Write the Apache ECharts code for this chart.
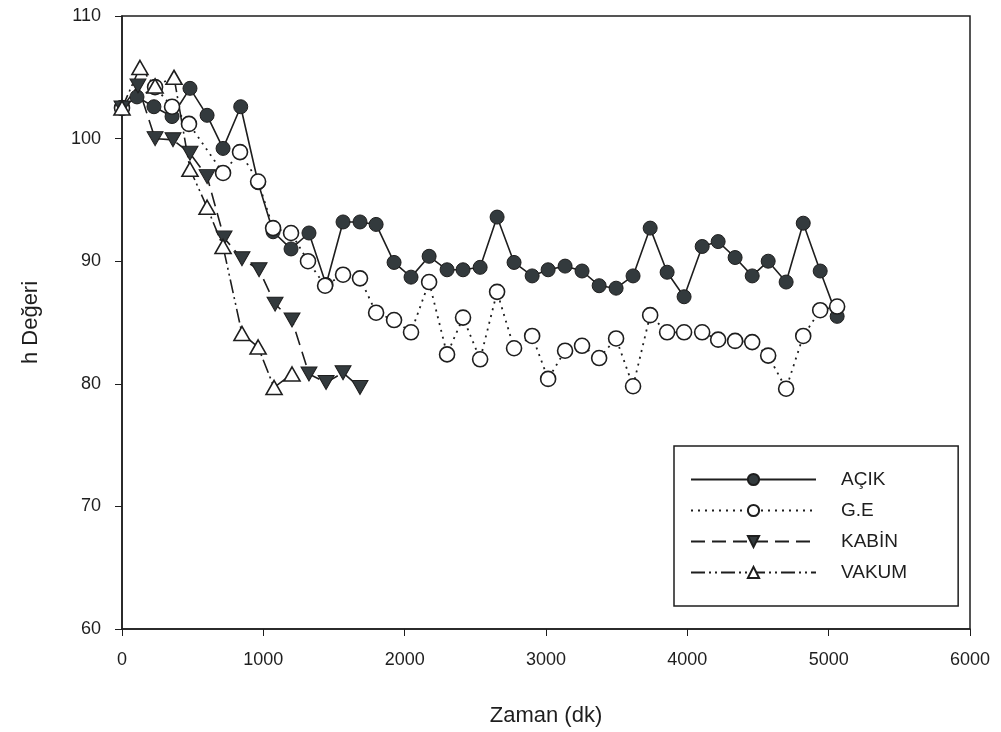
<!DOCTYPE html>
<html>
<head>
<meta charset="utf-8">
<script src="https://cdn.jsdelivr.net/npm/echarts@6/dist/echarts.min.js"></script>
<style>
  html, body { margin: 0; padding: 0; background: #fff; }
  #chart { width: 1001px; height: 732px; }
</style>
</head>
<body>
<div id="chart"></div>
<script>
// values: time (dk) and h value per series
var acikTime = [0, 106, 226, 354, 481, 602, 715, 840, 963, 1069, 1196, 1323, 1444, 1564, 1684, 1798, 1925, 2045, 2173, 2300, 2413, 2534, 2654, 2774, 2902, 3015, 3135, 3255, 3376, 3496, 3616, 3737, 3857, 3977, 4105, 4218, 4338, 4459, 4572, 4699, 4820, 4940, 5060];
var acikVal = [102.5, 103.4, 102.6, 101.8, 104.1, 101.9, 99.2, 102.6, 96.4, 92.4, 91.0, 92.3, 88.1, 93.2, 93.2, 93.0, 89.9, 88.7, 90.4, 89.3, 89.3, 89.5, 93.6, 89.9, 88.8, 89.3, 89.6, 89.2, 88.0, 87.8, 88.8, 92.7, 89.1, 87.1, 91.2, 91.6, 90.3, 88.8, 90.0, 88.3, 93.1, 89.2, 85.5];

var geTime = [0, 234, 354, 474, 715, 835, 963, 1069, 1196, 1316, 1437, 1564, 1684, 1798, 1925, 2045, 2173, 2300, 2413, 2534, 2654, 2774, 2902, 3015, 3135, 3255, 3376, 3496, 3616, 3737, 3857, 3977, 4105, 4218, 4338, 4459, 4572, 4699, 4820, 4940, 5060];
var geVal = [102.5, 104.2, 102.6, 101.2, 97.2, 98.9, 96.5, 92.7, 92.3, 90.0, 88.0, 88.9, 88.6, 85.8, 85.2, 84.2, 88.3, 82.4, 85.4, 82.0, 87.5, 82.9, 83.9, 80.4, 82.7, 83.1, 82.1, 83.7, 79.8, 85.6, 84.2, 84.2, 84.2, 83.6, 83.5, 83.4, 82.3, 79.6, 83.9, 86.0, 86.3];

var kabinTime = [0, 113, 234, 361, 481, 602, 722, 849, 970, 1083, 1203, 1323, 1444, 1564, 1684];
var kabinVal = [102.5, 104.3, 100.0, 99.9, 98.8, 96.9, 91.9, 90.2, 89.3, 86.5, 85.2, 80.8, 80.1, 80.9, 79.7];

var vakumTime = [0, 127, 234, 368, 481, 602, 715, 849, 963, 1076, 1203];
var vakumVal = [102.5, 105.8, 104.3, 105.0, 97.5, 94.4, 91.2, 84.1, 83.0, 79.7, 80.8];

var xTicks = [0, 1000, 2000, 3000, 4000, 5000, 6000];
var yTicks = [60, 70, 80, 90, 100, 110];

function pairs(t, v) {
  return t.map(function (x, i) { return [x, v[i]]; });
}

var ink = '#1e1e1e';
var font = 'Liberation Sans';

var chart = echarts.init(document.getElementById('chart'));

var option = {
  animation: false,
  backgroundColor: '#fff',
  grid: {
    left: 122, right: 31, top: 16, bottom: 102,
    show: true, borderColor: ink, borderWidth: 1.5, backgroundColor: 'transparent'
  },
  legend: {
    left: 674, top: 446,
    orient: 'vertical',
    itemWidth: 125, itemHeight: 14, itemGap: 12,
    padding: [24, 51, 24, 16],
    borderColor: ink, borderWidth: 1.5,
    textStyle: { fontFamily: font, fontSize: 19, color: ink, padding: [0, 0, 0, 20] },
    data: ['AÇIK', 'G.E', 'KABİN', 'VAKUM']
  },
  xAxis: {
    type: 'value',
    min: xTicks[0], max: xTicks[xTicks.length - 1], interval: 1000,
    name: 'Zaman (dk)', nameLocation: 'middle', nameGap: 76,
    nameTextStyle: { fontFamily: font, fontSize: 22, color: ink },
    axisLine: { show: true, lineStyle: { color: ink, width: 1.5 } },
    axisTick: { show: true, inside: false, length: 7, lineStyle: { color: ink } },
    axisLabel: {
      fontFamily: font, fontSize: 18, color: ink, margin: 22,
      formatter: function (v) { return String(v); }
    },
    splitLine: { show: false }
  },
  yAxis: {
    type: 'value',
    min: yTicks[0], max: yTicks[yTicks.length - 1], interval: 10,
    name: 'h Değeri', nameLocation: 'middle', nameGap: 80, nameRotate: 90,
    nameTextStyle: { fontFamily: font, fontSize: 22, color: ink },
    axisLine: { show: true, lineStyle: { color: ink, width: 1.5 } },
    axisTick: { show: true, inside: false, length: 7, lineStyle: { color: ink } },
    axisLabel: { fontFamily: font, fontSize: 18, color: ink, margin: 21 },
    splitLine: { show: false }
  },
  series: [{
    name: 'AÇIK',
    type: 'line',
    data: pairs(acikTime, acikVal),
    symbol: 'circle', symbolSize: 14,
    itemStyle: { color: '#333a3d', borderColor: ink, borderWidth: 1 },
    lineStyle: { color: ink, width: 1.6, type: 'solid' }
  }, {
    name: 'G.E',
    type: 'line',
    data: pairs(geTime, geVal),
    symbol: 'circle', symbolSize: 15,
    itemStyle: { color: '#fff', borderColor: ink, borderWidth: 1.6 },
    lineStyle: { color: ink, width: 1.8, type: [2, 5] }
  }, {
    name: 'KABİN',
    type: 'line',
    data: pairs(kabinTime, kabinVal),
    symbol: 'triangle', symbolRotate: 180, symbolSize: [16, 14],
    itemStyle: { color: '#333a3d', borderColor: ink, borderWidth: 1 },
    lineStyle: { color: ink, width: 1.6, type: [14, 7] }
  }, {
    name: 'VAKUM',
    type: 'line',
    data: pairs(vakumTime, vakumVal),
    symbol: 'triangle', symbolSize: [16, 14],
    itemStyle: { color: '#fff', borderColor: ink, borderWidth: 1.6 },
    lineStyle: { color: ink, width: 1.6, type: [14, 4, 2, 4, 2, 4] }
  }]
};

chart.setOption(option);
</script>
</body>
</html>
